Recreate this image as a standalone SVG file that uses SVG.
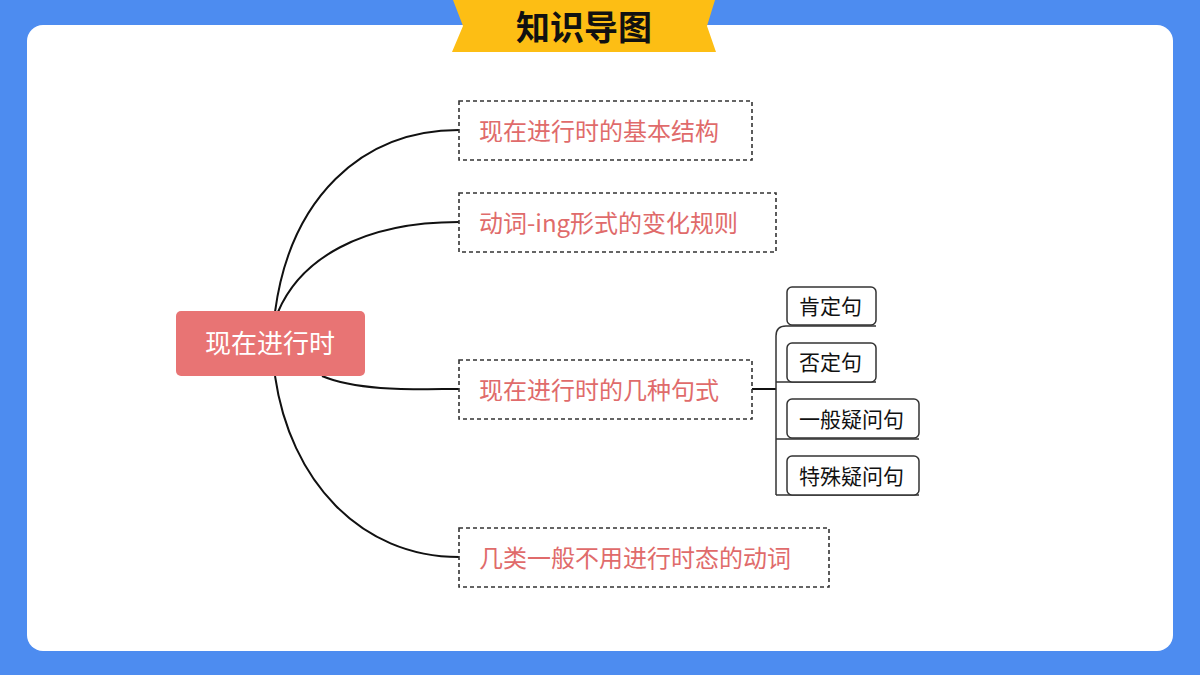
<svg xmlns="http://www.w3.org/2000/svg" width="1200" height="675" viewBox="0 0 1200 675">
<style>
.f{font-family:"Noto Sans CJK SC","Noto Sans",sans-serif}
.m{fill:#fff;stroke:#333;stroke-width:1.6;stroke-dasharray:4 3}
.mt{fill:#E06B6B;font-size:24px}
.s{fill:#fff;stroke:#333;stroke-width:1.5}
.st{fill:#111;font-size:21px}
.c{fill:none;stroke:#111;stroke-width:2}
</style>
<rect width="1200" height="675" fill="#4D8CF0"/>
<rect x="27" y="25" width="1146" height="626" rx="16" fill="#fff"/>
<g id="banner"><polygon points="453,0 715,0 707,26 716,52 452,52 463,26" fill="#FDBE14"/>
<text x="584" y="40" text-anchor="middle" class="f" font-size="34" font-weight="bold" fill="#111">知识导图</text></g>
<g id="connectors">
<path class="c" d="M275,312 C290,200 360,130 459,130"/>
<path class="c" d="M278,312 C300,260 360,222 459,222"/>
<path class="c" d="M322,376 C360,392 420,389 459,389"/>
<path class="c" d="M275,376 C290,480 360,557 459,557"/>
<path class="c" d="M752,389 H776" stroke-width="1.5"/>
<path d="M776,336 V495 M776,336 Q776,326 786,326 H876 M776,382 H876 M776,439 H919 M776,495 H919" fill="none" stroke="#333" stroke-width="1.5"/>
</g>
<g id="root"><rect x="176" y="311" width="189" height="65" rx="5" fill="#E87474"/><text x="270" y="353" text-anchor="middle" class="f" font-size="26" fill="#fff">现在进行时</text></g>
<g id="n1"><rect class="m" x="459" y="101" width="293" height="59"/><text class="f mt" x="479" y="140">现在进行时的基本结构</text></g>
<g id="n2"><rect class="m" x="459" y="193" width="317" height="59"/><text class="f mt" x="479" y="232">动词-ing形式的变化规则</text></g>
<g id="n3"><rect class="m" x="459" y="360" width="293" height="59"/><text class="f mt" x="479" y="399">现在进行时的几种句式</text></g>
<g id="n4"><rect class="m" x="459" y="528" width="370" height="59"/><text class="f mt" x="479" y="567">几类一般不用进行时态的动词</text></g>
<g id="s1"><rect class="s" x="787" y="287" width="89" height="38" rx="5"/><text class="f st" x="799" y="314">肯定句</text></g>
<g id="s2"><rect class="s" x="787" y="343" width="89" height="39" rx="5"/><text class="f st" x="799" y="370">否定句</text></g>
<g id="s3"><rect class="s" x="787" y="399" width="132" height="39" rx="5"/><text class="f st" x="799" y="427">一般疑问句</text></g>
<g id="s4"><rect class="s" x="787" y="456" width="132" height="39" rx="5"/><text class="f st" x="799" y="484">特殊疑问句</text></g>
</svg>
